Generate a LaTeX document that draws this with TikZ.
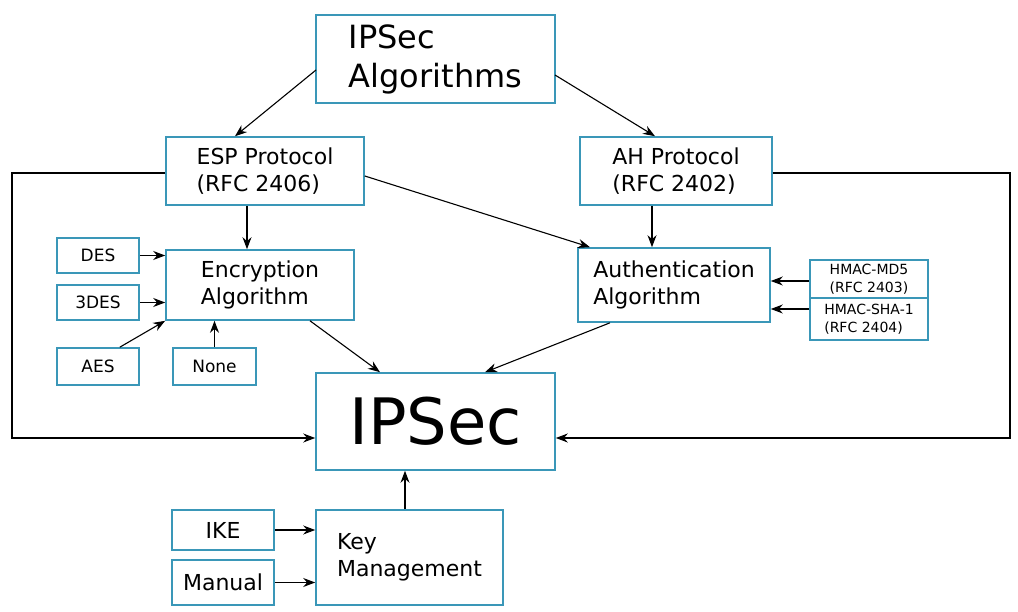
\documentclass[tikz,border=0pt]{standalone}
\usepackage{fontspec}
\setmainfont{DejaVu Sans}
\usetikzlibrary{arrows.meta, positioning}
\definecolor{boxblue}{HTML}{3A97B8}
\begin{document}
\begin{tikzpicture}[
    x=1pt, y=-1pt,
    font=\fontsize{22}{27}\selectfont,
    box/.style={draw=boxblue, line width=1.6pt, align=left, inner sep=0pt, fill=white},
    small/.style={box, font=\fontsize{17}{21}\selectfont},
    tiny/.style={box, font=\fontsize{14}{18}\selectfont},
    arr/.style={-{Stealth[length=12pt,width=9pt]}, line width=1.1pt}
]
    \useasboundingbox (0,0) rectangle (1018,612);

    \node[box, minimum width=239, minimum height=88, font=\fontsize{32}{39}\selectfont] (alg) at (435.5,59) {IPSec\\Algorithms};
    \node[box, minimum width=198, minimum height=68] (esp) at (265,171) {ESP Protocol\\(RFC 2406)};
    \node[box, minimum width=192, minimum height=68] (ah) at (676,171) {AH Protocol\\(RFC 2402)};
    \node[box, minimum width=188, minimum height=70] (enc) at (260,285) {Encryption\\Algorithm};
    \node[box, minimum width=192, minimum height=74] (auth) at (674,285) {Authentication\\Algorithm};
    \node[small, minimum width=82, minimum height=35] (des) at (98,255.5) {DES};
    \node[small, minimum width=82, minimum height=35] (tdes) at (98,302.5) {3DES};
    \node[small, minimum width=82, minimum height=37] (aes) at (98,366.5) {AES};
    \node[small, minimum width=83, minimum height=37] (none) at (214.5,366.5) {None};
    \node[tiny, minimum width=118, minimum height=38] (md5) at (869,279) {HMAC-MD5\\(RFC 2403)};
    \node[tiny, minimum width=118, minimum height=42] (sha) at (869,319) {HMAC-SHA-1\\(RFC 2404)};
    \node[box, minimum width=239, minimum height=97, font=\fontsize{64}{70}\selectfont] (ipsec) at (435.5,421.5) {IPSec};
    \node[box, minimum width=187, minimum height=95] (key) at (409.5,557.5) {Key\\Management};
    \node[box, minimum width=102, minimum height=40] (ike) at (223,530) {IKE};
    \node[box, minimum width=102, minimum height=45] (manual) at (223,582.5) {Manual};

    \coordinate (algL) at (316,70);
    \coordinate (algR) at (555,75);
    \draw[arr] (algL) -- (esp.north -| 235,0);
    \draw[arr] (algR) -- (ah.north -| 655,0);
    \draw[arr] (esp.south -| 247,0) -- (enc.north -| 247,0);
    \draw[arr] (esp.east |- 0,176) -- (auth.north -| 590,0);
    \draw[arr] (ah.south -| 652,0) -- (auth.north -| 652,0);
    \draw[arr] (des) -- (des -| enc.west);
    \draw[arr] (tdes) -- (tdes -| enc.west);
    \draw[arr] (aes.north east) ++(-20,0) -- (enc.south west);
    \draw[arr] (none) -- (none |- enc.south);
    \draw[arr] (md5.west |- 0,281) -- (auth.east |- 0,281);
    \draw[arr] (sha.west |- 0,309) -- (auth.east |- 0,309);
    \draw[arr] (enc.south -| 310,0) -- (ipsec.north -| 380,0);
    \draw[arr] (auth.south -| 610,0) -- (ipsec.north -| 485,0);
    \draw[arr] (key.north -| 405,0) -- (ipsec.south -| 405,0);
    \draw[arr] (ike) -- (ike -| key.west);
    \draw[arr] (manual) -- (manual -| key.west);
    \draw[arr, line width=1.3pt] (esp.west |- 0,173) -- (12,173) -- (12,438) -- (ipsec.west |- 0,438);
    \draw[arr, line width=1.3pt] (ah.east |- 0,173) -- (1010,173) -- (1010,438) -- (ipsec.east |- 0,438);
\end{tikzpicture}
\end{document}
